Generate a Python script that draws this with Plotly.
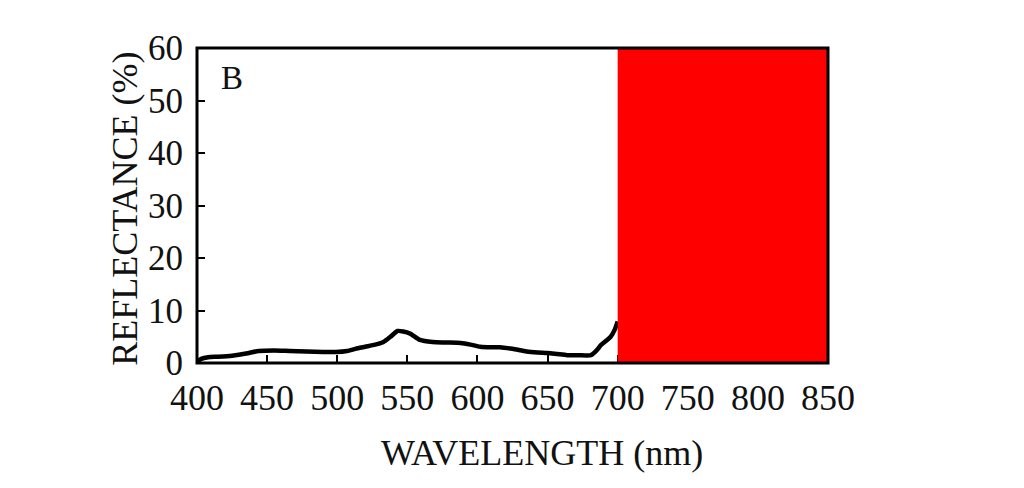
import plotly.graph_objects as go

# reflectance spectrum
wavelength = [400, 403, 408, 415, 425, 435, 444, 455, 466, 478, 490, 499, 507, 513,
              520, 527, 533, 538, 543, 547, 552, 559, 568, 578, 588, 595, 602, 610,
              616, 625, 635, 643, 650, 657, 664, 672, 681, 685, 688, 692, 695, 698, 700]
reflectance = [0.3, 0.8, 1.1, 1.2, 1.4, 1.8, 2.3, 2.4, 2.3, 2.2, 2.1, 2.1, 2.3, 2.7,
               3.1, 3.5, 4.0, 5.0, 6.1, 6.0, 5.6, 4.4, 4.0, 3.9, 3.8, 3.5, 3.1, 3.0,
               3.0, 2.7, 2.2, 2.0, 1.9, 1.7, 1.5, 1.5, 1.5, 2.4, 3.4, 4.3, 5.0, 6.4, 7.9]

x_ticks = [400, 450, 500, 550, 600, 650, 700, 750, 800, 850]
y_ticks = [0, 10, 20, 30, 40, 50, 60]

# red band covering the near-infrared part
band_x = [700, 850]
band_y = [0, 60]

panel_label = "B"
font_family = "Liberation Serif"

fig = go.Figure()
fig.add_trace(go.Scatter(
    x=wavelength, y=reflectance, mode="lines",
    line=dict(color="black", width=4.5, shape="spline", smoothing=0.6),
    hoverinfo="skip", showlegend=False,
))

fig.add_shape(type="rect", xref="x", yref="y",
              x0=band_x[0], x1=band_x[1], y0=band_y[0], y1=band_y[1],
              fillcolor="#ff0000", line=dict(width=0), layer="above")
# frame drawn after the band so it stays on top
fig.add_shape(type="rect", xref="paper", yref="paper", x0=0, x1=1, y0=0, y1=1,
              line=dict(color="black", width=3), layer="above")

fig.update_xaxes(
    range=[band_x[1] - 450, band_x[1]], tickvals=x_ticks,
    ticks="inside", ticklen=8, tickwidth=2, tickcolor="black",
    showgrid=False, zeroline=False, showline=False, ticklabelstandoff=10,
    tickfont=dict(family=font_family, size=36, color="#111"),
)
fig.update_yaxes(
    range=band_y, tickvals=y_ticks,
    ticks="inside", ticklen=8, tickwidth=2, tickcolor="black",
    showgrid=False, zeroline=False, showline=False, ticklabelstandoff=13,
    tickfont=dict(family=font_family, size=35, color="#111"),
)

fig.update_layout(
    width=1024, height=488,
    margin=dict(l=189, r=204, t=40, b=133),
    plot_bgcolor="white", paper_bgcolor="white",
    font=dict(family=font_family, color="#111"),
    annotations=[
        dict(x=0.055, y=0.905, xref="paper", yref="paper", text=panel_label,
             showarrow=False, xanchor="center", yanchor="middle",
             font=dict(size=33, family=font_family)),
        dict(x=0.547, y=-0.286, xref="paper", yref="paper", text="WAVELENGTH (nm)",
             showarrow=False, xanchor="center", yanchor="middle",
             font=dict(size=36, family=font_family)),
        dict(x=-0.114, y=0.49, xref="paper", yref="paper", text="REFLECTANCE (%)",
             showarrow=False, textangle=-90, xanchor="center", yanchor="middle",
             font=dict(size=36, family=font_family)),
    ],
)

fig.write_html("out.html")
